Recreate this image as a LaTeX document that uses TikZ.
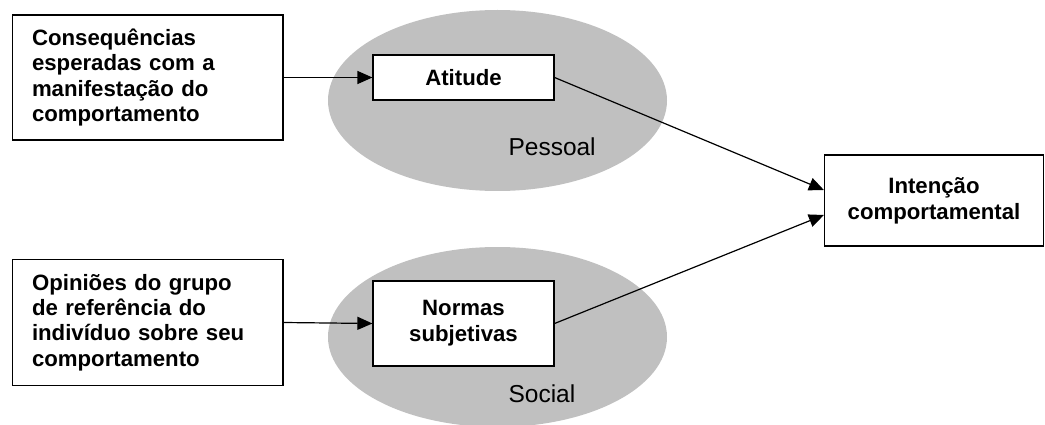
\documentclass[tikz,border=0pt]{standalone}
\usepackage{fontspec}
\setmainfont{Liberation Sans}
\usetikzlibrary{arrows.meta}
\begin{document}
\begin{tikzpicture}[x=1pt,y=-1pt,
  box/.style={draw=black,line width=1.2pt,fill=white,inner sep=0pt,
    font=\bfseries\fontsize{22.2}{25.3}\selectfont},
  leftbox/.style={box,align=left,text width=231.5pt,inner xsep=19.5pt,minimum height=#1},
  midbox/.style={box,align=center,minimum width=181pt,minimum height=#1},
  zone/.style={fill=zonegray,draw=none},
  zonelabel/.style={anchor=base west,font=\fontsize{24.5}{28}\selectfont},
  conn/.style={line width=1.2pt,-{Triangle[length=15pt,width=13pt]}}]
\definecolor{zonegray}{HTML}{C0C0C0}
\useasboundingbox (0,0) rectangle (1045,425);
% zones
\fill[zone] (497.5,100.5) ellipse [x radius=169.5, y radius=90.5];
\fill[zone] (497.5,337) ellipse [x radius=169.5, y radius=90];
\node[zonelabel] (pes) at (505,156) {Pessoal};
\node[zonelabel] (soc) at (505,402) {Social};
% boxes
\node[leftbox=125pt] (cons) at (147.75,77.5) {Consequências\\esperadas com a\\manifestação do\\comportamento};
\node[leftbox=126pt] (opin) at (147.75,322.5) {Opiniões do grupo\\de referência do\\indivíduo sobre seu\\comportamento};
\node[midbox=45pt] (ati) at (463.5,77.5) {Atitude};
\node[midbox=85pt,font=\bfseries\fontsize{22.2}{26}\selectfont] (norm) at (463.5,323.5) {Normas\\subjetivas};
\node[box,align=center,minimum width=219pt,minimum height=91pt,font=\bfseries\fontsize{22.2}{26}\selectfont] (int) at (934,200.5) {Intenção\\comportamental};
% connectors
\draw[conn] (cons.east) -- (ati.west);
\draw[conn] (opin.east) -- (norm.west);
\draw[conn] (ati.east) -- ([yshift=10.5pt]int.west);
\draw[conn] (norm.east) -- ([yshift=-14.5pt]int.west);
\end{tikzpicture}
\end{document}
